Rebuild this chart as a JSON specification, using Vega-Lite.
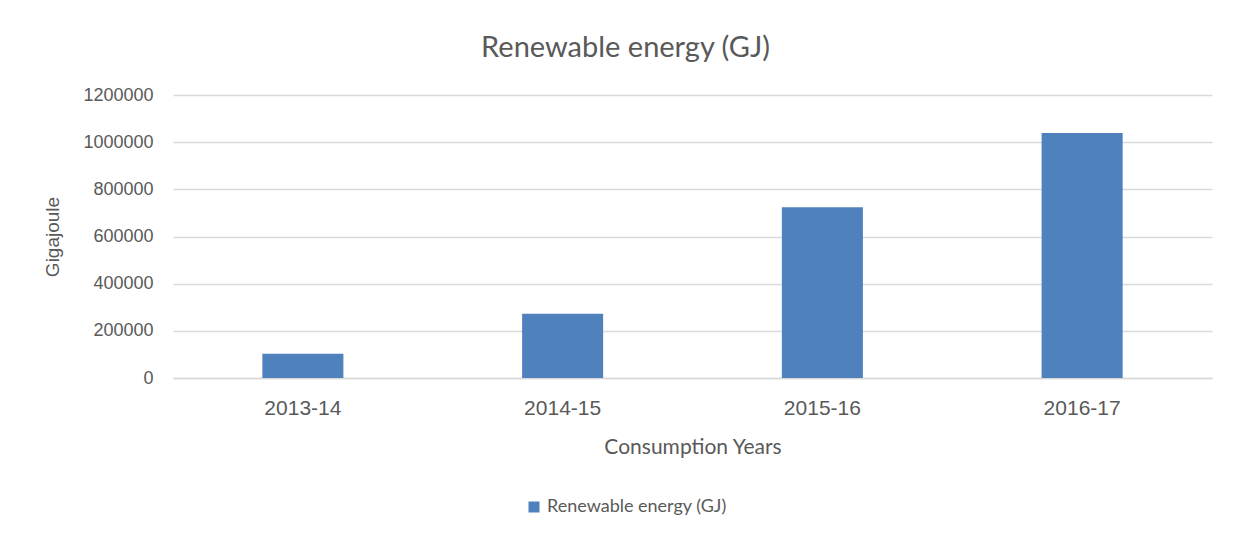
{
  "$schema": "https://vega.github.io/schema/vega-lite/v6.json",
  "autosize": "none",
  "width": 1039,
  "height": 283,
  "padding": {"left": 173, "top": 95, "right": 31, "bottom": 158},
  "background": "white",
  "title": {
    "text": "Renewable energy (GJ)",
    "font": "Lato",
    "fontSize": 29,
    "fontWeight": "normal",
    "color": "#595959",
    "anchor": "middle",
    "baseline": "alphabetic",
    "offset": 0,
    "dx": -67
  },
  "data": {
    "values": [
      {"year": "2013-14", "value": 103000, "series": "Renewable energy (GJ)"},
      {"year": "2014-15", "value": 272000, "series": "Renewable energy (GJ)"},
      {"year": "2015-16", "value": 724000, "series": "Renewable energy (GJ)"},
      {"year": "2016-17", "value": 1039000, "series": "Renewable energy (GJ)"}
    ]
  },
  "mark": {"type": "bar"},
  "encoding": {
    "x": {
      "field": "year",
      "type": "nominal",
      "sort": null,
      "scale": {"paddingInner": 0.688, "paddingOuter": 0.344},
      "axis": {
        "title": "Consumption Years",
        "titleFont": "Lato",
        "titleFontSize": 21,
        "titleFontWeight": "normal",
        "titleColor": "#595959",
        "titlePadding": 18,
        "labelFont": "Liberation Sans",
        "labelFontSize": 21,
        "labelColor": "#595959",
        "labelAngle": 0,
        "labelPadding": 19,
        "ticks": false,
        "domain": true,
        "domainColor": "#d9d9d9",
        "domainWidth": 1.5,
        "grid": false
      }
    },
    "y": {
      "field": "value",
      "type": "quantitative",
      "scale": {"domain": [0, 1200000], "nice": false},
      "axis": {
        "title": "Gigajoule",
        "titleFont": "Liberation Sans",
        "titleFontSize": 19,
        "titleFontWeight": "normal",
        "titleColor": "#595959",
        "titlePadding": 20,
        "labelFont": "Liberation Sans",
        "labelFontSize": 18,
        "labelColor": "#595959",
        "labelPadding": 20,
        "values": [0, 200000, 400000, 600000, 800000, 1000000, 1200000],
        "format": "d",
        "ticks": false,
        "domain": false,
        "grid": true,
        "gridColor": "#d9d9d9",
        "gridWidth": 1.5
      }
    },
    "color": {
      "field": "series",
      "type": "nominal",
      "scale": {"range": ["#4f81bd"]},
      "legend": {
        "title": null,
        "orient": "none",
        "legendX": 352,
        "legendY": 403,
        "symbolType": "square",
        "symbolSize": 121,
        "symbolStrokeWidth": 0,
        "labelFont": "Lato",
        "labelFontSize": 18,
        "labelLimit": 400,
        "labelColor": "#595959",
        "labelOffset": 4,
        "padding": 0
      }
    }
  },
  "config": {
    "view": {"stroke": null}
  }
}
